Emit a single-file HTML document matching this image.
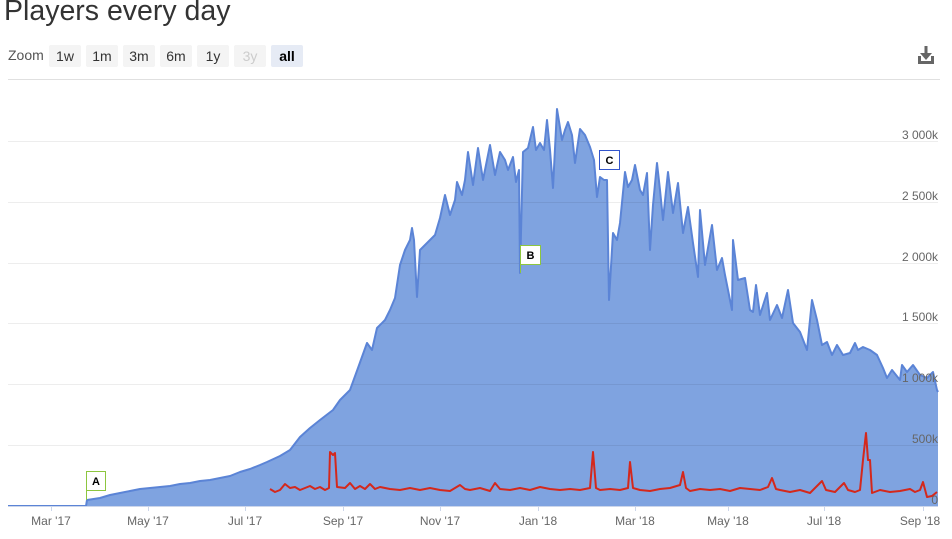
<!DOCTYPE html>
<html><head><meta charset="utf-8"><style>
body{margin:0;width:952px;height:539px;overflow:hidden;background:#fff;font-family:"Liberation Sans",sans-serif;position:relative}
.t{position:absolute;left:4px;top:-5px;font-size:28.5px;color:#333;font-weight:300}
.z{position:absolute;top:55px;font-size:14px;color:#333;transform:translateY(-50%)}
.b{position:absolute;top:45px;height:22px;background:#f4f4f4;border-radius:2px;font-size:14px;color:#333;text-align:center;line-height:22px}
</style></head><body>
<div class="t">Players every day</div>
<div class="z" style="left:8px;color:#555">Zoom</div>
<div class="b" style="left:49px;width:32px">1w</div>
<div class="b" style="left:86px;width:32px">1m</div>
<div class="b" style="left:123px;width:32px">3m</div>
<div class="b" style="left:160px;width:32px">6m</div>
<div class="b" style="left:197px;width:32px">1y</div>
<div class="b" style="left:234px;width:32px;color:#ccc">3y</div>
<div class="b" style="left:271px;width:32px;background:#e6ebf5;font-weight:bold;color:#000">all</div>
<svg width="952" height="539" style="position:absolute;left:0;top:0" font-family="Liberation Sans, sans-serif">
<line x1="8" y1="79.5" x2="940" y2="79.5" stroke="#e0e0e0"/>
<g fill="#666"><rect x="918" y="61" width="16" height="3"/><rect x="918" y="56" width="3" height="8"/><rect x="931" y="56" width="3" height="8"/><rect x="924.5" y="46" width="3" height="9"/><polygon points="920,53 932,53 926,60"/></g>
<polygon fill="#7fa3e0" points="8,506 86,506 87,500 100,498 110,495 120,493 130,491 140,489 150,488 160,487 170,486 180,484 190,483 200,481 210,480 220,478 230,476 240,472 250,469 260,465 267,462 280,456 290,450 300,437 310,428 320,420 333,410 340,400 350,390 358,368 367,343 372,350 377,328 385,320 390,310 395,298 400,265 405,250 410,240 412,228 414,240 417,297 420,250 425,245 430,240 435,235 440,218 445,195 450,215 455,200 457,182 462,195 465,180 468,152 473,185 478,148 483,180 486,165 490,145 495,175 500,152 505,160 508,170 513,157 516,182 519,170 520,273 523,152 528,148 533,127 536,150 540,143 544,150 547,120 550,150 553,188 557,109 562,140 565,130 568,122 572,135 575,163 580,129 585,135 590,147 594,160 597,197 600,177 604,180 607,180 609,300 613,233 617,240 620,223 625,172 628,187 632,180 635,165 640,190 643,195 647,173 650,250 653,205 657,163 660,190 663,220 668,172 673,213 678,183 683,233 688,207 693,243 698,277 700,210 705,265 712,225 717,270 722,258 725,275 732,310 733,240 738,280 745,278 750,310 753,312 756,285 760,315 767,293 770,320 777,305 782,318 788,290 793,323 800,332 807,350 812,300 817,320 822,345 827,342 832,355 837,345 843,355 850,353 855,343 858,350 863,347 870,350 877,355 883,368 887,378 892,370 900,380 902,365 907,372 913,365 920,375 927,378 933,372 937,390 938,392 938,506"/>
<g stroke="#000" stroke-opacity="0.07"><line x1="8" y1="141.5" x2="938" y2="141.5"/><line x1="8" y1="202.5" x2="938" y2="202.5"/><line x1="8" y1="263.5" x2="938" y2="263.5"/><line x1="8" y1="323.5" x2="938" y2="323.5"/><line x1="8" y1="384.5" x2="938" y2="384.5"/><line x1="8" y1="445.5" x2="938" y2="445.5"/></g>
<polyline fill="none" stroke="#5b84d6" stroke-width="2" stroke-linejoin="round" points="8,506 86,506 87,500 100,498 110,495 120,493 130,491 140,489 150,488 160,487 170,486 180,484 190,483 200,481 210,480 220,478 230,476 240,472 250,469 260,465 267,462 280,456 290,450 300,437 310,428 320,420 333,410 340,400 350,390 358,368 367,343 372,350 377,328 385,320 390,310 395,298 400,265 405,250 410,240 412,228 414,240 417,297 420,250 425,245 430,240 435,235 440,218 445,195 450,215 455,200 457,182 462,195 465,180 468,152 473,185 478,148 483,180 486,165 490,145 495,175 500,152 505,160 508,170 513,157 516,182 519,170 520,273 523,152 528,148 533,127 536,150 540,143 544,150 547,120 550,150 553,188 557,109 562,140 565,130 568,122 572,135 575,163 580,129 585,135 590,147 594,160 597,197 600,177 604,180 607,180 609,300 613,233 617,240 620,223 625,172 628,187 632,180 635,165 640,190 643,195 647,173 650,250 653,205 657,163 660,190 663,220 668,172 673,213 678,183 683,233 688,207 693,243 698,277 700,210 705,265 712,225 717,270 722,258 725,275 732,310 733,240 738,280 745,278 750,310 753,312 756,285 760,315 767,293 770,320 777,305 782,318 788,290 793,323 800,332 807,350 812,300 817,320 822,345 827,342 832,355 837,345 843,355 850,353 855,343 858,350 863,347 870,350 877,355 883,368 887,378 892,370 900,380 902,365 907,372 913,365 920,375 927,378 933,372 937,390 938,392"/>
<polyline fill="none" stroke="#d4281c" stroke-width="2" stroke-linejoin="round" points="270,489 275,492 280,490 285,484 290,488 295,487 300,490 305,488 310,486 315,489 320,487 325,490 329,488 330,452 333,455 335,453 337,487 345,488 350,483 355,489 360,486 365,489 370,484 375,489 380,487 390,489 400,490 410,488 420,490 430,488 440,490 450,491 460,485 465,489 470,490 480,488 490,491 495,483 500,489 510,490 520,488 530,490 540,487 550,489 560,490 570,489 580,490 590,488 593,452 596,488 600,490 610,489 620,490 628,488 630,462 633,488 640,490 650,491 660,489 670,488 680,485 683,472 686,488 690,491 700,489 710,490 720,489 730,491 740,488 750,489 760,490 768,487 772,478 776,489 780,490 790,492 800,490 810,493 818,485 822,481 826,490 835,492 844,483 848,490 855,492 860,490 863,460 866,433 868,460 870,460 872,493 880,490 890,492 900,491 910,489 915,492 920,490 923,482 927,497 932,496 937,492"/>
<line x1="8" y1="506.5" x2="938" y2="506.5" stroke="#ccd6eb"/>
<g stroke="#ccd6eb"><line x1="51.5" y1="506" x2="51.5" y2="511"/><line x1="148.5" y1="506" x2="148.5" y2="511"/><line x1="245.5" y1="506" x2="245.5" y2="511"/><line x1="343.5" y1="506" x2="343.5" y2="511"/><line x1="440.5" y1="506" x2="440.5" y2="511"/><line x1="538.5" y1="506" x2="538.5" y2="511"/><line x1="635.5" y1="506" x2="635.5" y2="511"/><line x1="728.5" y1="506" x2="728.5" y2="511"/><line x1="824.5" y1="506" x2="824.5" y2="511"/><line x1="923.5" y1="506" x2="923.5" y2="511"/></g>
<g font-size="12" fill="#666" text-anchor="middle"><text x="51" y="525">Mar '17</text><text x="148" y="525">May '17</text><text x="245" y="525">Jul '17</text><text x="343" y="525">Sep '17</text><text x="440" y="525">Nov '17</text><text x="538" y="525">Jan '18</text><text x="635" y="525">Mar '18</text><text x="728" y="525">May '18</text><text x="824" y="525">Jul '18</text><text x="920" y="525">Sep '18</text></g>
<g font-size="12" fill="#666" text-anchor="end"><text x="938" y="139">3 000k</text><text x="938" y="200">2 500k</text><text x="938" y="261">2 000k</text><text x="938" y="321">1 500k</text><text x="938" y="382">1 000k</text><text x="938" y="443">500k</text><text x="938" y="504">0</text></g>
<g font-size="11" font-weight="bold" text-anchor="middle" fill="#000">
<line x1="86.5" y1="490" x2="86.5" y2="500" stroke="#8dc63f"/><rect x="86.5" y="471.5" width="19" height="19" fill="#fff" stroke="#8dc63f"/><text x="96" y="485">A</text>
<line x1="520.5" y1="264" x2="520.5" y2="273" stroke="#8dc63f"/><rect x="520.5" y="245.5" width="20" height="19" fill="#fff" stroke="#8dc63f"/><text x="530.5" y="259">B</text>
<rect x="599.5" y="150.5" width="20" height="19" fill="#fff" stroke="#3355cc"/><text x="609.5" y="164">C</text>
</g>
</svg>
</body></html>
